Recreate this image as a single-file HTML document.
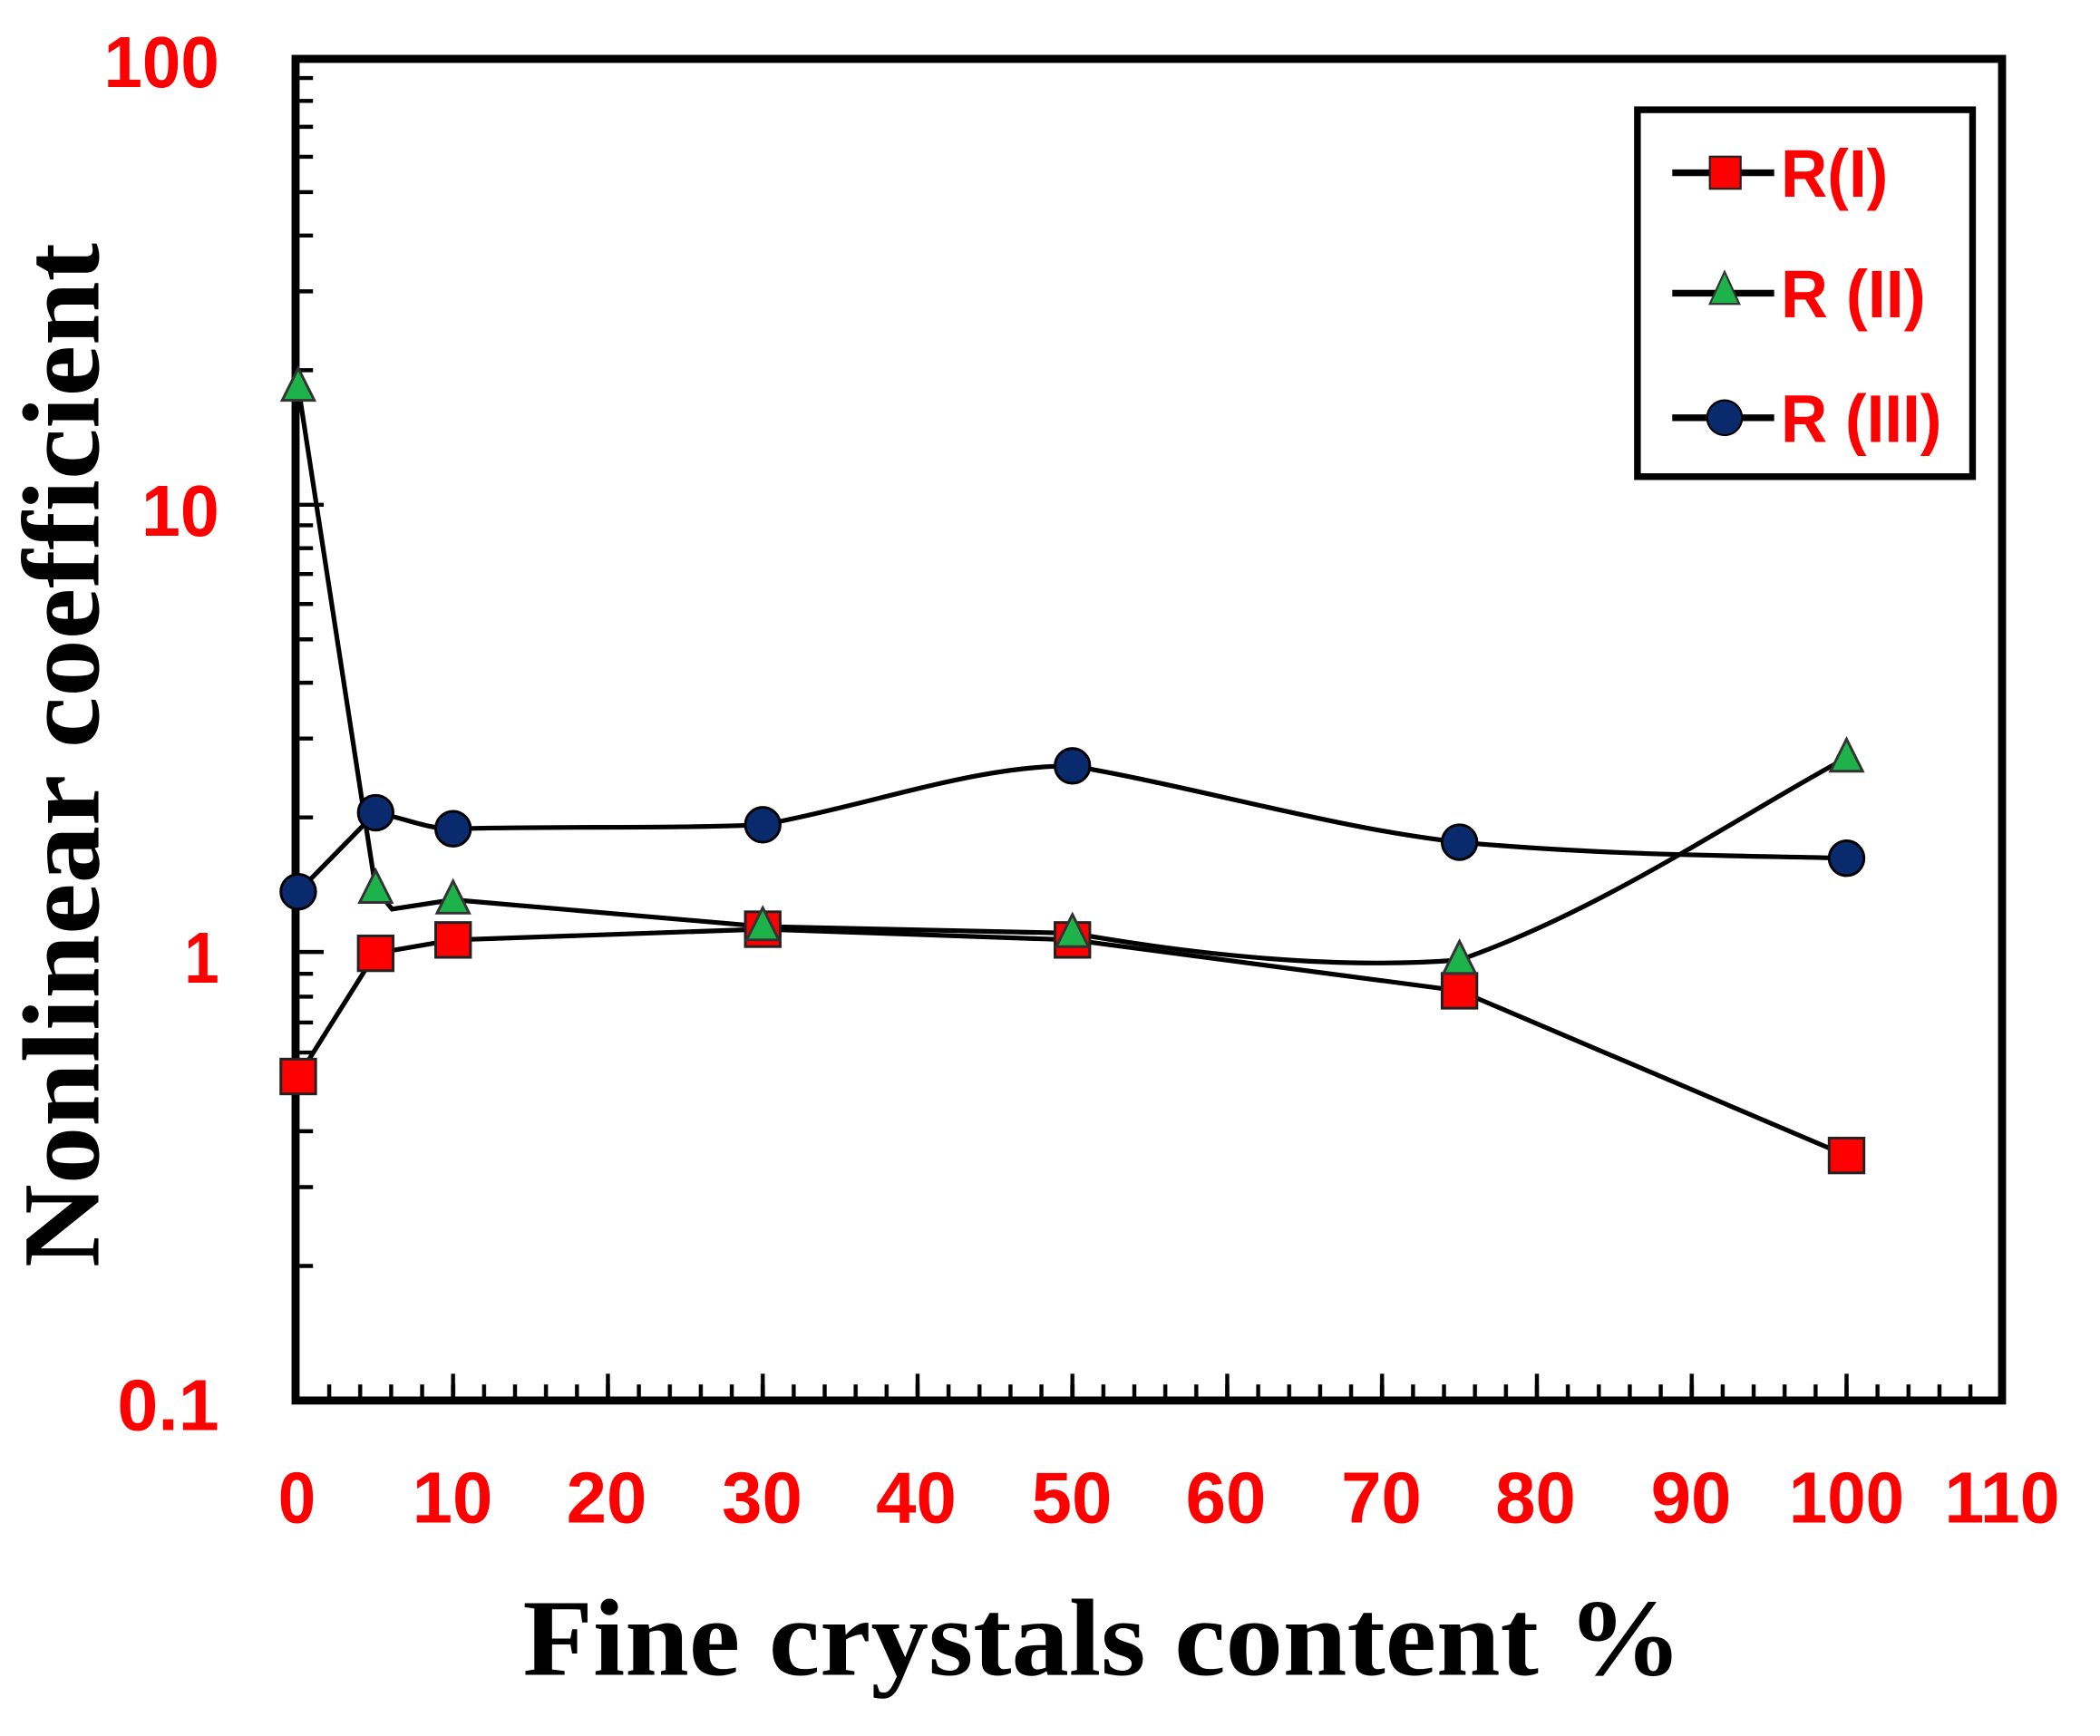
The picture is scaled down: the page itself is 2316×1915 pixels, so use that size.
<!DOCTYPE html>
<html><head><meta charset="utf-8"><style>html,body{margin:0;padding:0;background:#fff}svg{display:block}</style></head>
<body>
<svg width="2316" height="1915" viewBox="0 0 2316 1915" xmlns="http://www.w3.org/2000/svg">
<defs>
<pattern id="minx" x="225" y="0" width="23.1" height="1286" patternUnits="userSpaceOnUse">
<rect x="-1.5" y="1035" width="3" height="12" fill="#000"/>
<rect x="21.6" y="1035" width="3" height="12" fill="#000"/>
</pattern>
<pattern id="majx" x="225" y="0" width="115.5" height="1286" patternUnits="userSpaceOnUse">
<rect x="-1.5" y="1027" width="3" height="20" fill="#000"/>
<rect x="114" y="1027" width="3" height="20" fill="#000"/>
</pattern>
</defs>
<rect width="2316" height="1915" fill="#fff"/>
<g transform="translate(-3.7,-1.5) scale(1.4784,1.477)">
<rect x="228" y="1020" width="1262" height="27" fill="url(#minx)"/>
<rect x="228" y="1020" width="1262" height="27" fill="url(#majx)"/>
<g stroke="#000" stroke-width="3">
<path d="M226 946.5h10M226 887.6h10M226 845.9h10M226 813.5h10M226 787.1h10M226 764.7h10M226 745.4h10M226 728.3h10M226 712h18
M226 611.5h10M226 552.6h10M226 510.9h10M226 478.5h10M226 452.1h10M226 429.7h10M226 410.4h10M226 393.3h10M226 378h18
M226 277.5h10M226 218.6h10M226 176.9h10M226 144.5h10M226 118.1h10M226 95.7h10M226 76.4h10M226 59.3h10"/>
</g>
<rect x="223" y="45" width="1273" height="1002" fill="none" stroke="#000" stroke-width="6"/>

<g fill="none" stroke="#000" stroke-width="3.5">
<path d="M225,667 L282.75,608 C305,612 320,620 340.5,620 C420,618 500,620 571.5,617 C660,600 730,573 802.5,573 C900,590 1000,620 1091.25,630 C1200,640 1300,640 1380,642"/>
<path d="M225,805 L282.75,713 L340.5,703 L571.5,695 L802.5,703 L1091.25,741 L1380,864"/>
<path d="M225,290 L282.75,665 L295,680 L340.5,673 L571.5,693 L802.5,698 C900,715 1000,725 1091.25,718 C1200,680 1300,610 1380,567"/>
</g>
<g fill="#0a2a6e" stroke="#000" stroke-width="2">
<circle cx="225" cy="667" r="13"/><circle cx="282.75" cy="608" r="13"/><circle cx="340.5" cy="620" r="13"/><circle cx="571.5" cy="617" r="13"/><circle cx="802.5" cy="573" r="13"/><circle cx="1091.25" cy="630" r="13"/><circle cx="1380" cy="642" r="13"/>
</g>
<g fill="#f00" stroke="#222" stroke-width="2">
<rect x="212" y="792" width="26" height="26"/><rect x="269.75" y="700" width="26" height="26"/><rect x="327.5" y="690" width="26" height="26"/><rect x="558.5" y="682" width="26" height="26"/><rect x="789.5" y="690" width="26" height="26"/><rect x="1078.25" y="728" width="26" height="26"/><rect x="1367" y="851" width="26" height="26"/>
</g>
<g fill="#1db34a" stroke="#333" stroke-width="2">
<polygon points="225,276 213,300 237,300"/>
<polygon points="282.75,651 270.75,675 294.75,675"/>
<polygon points="340.5,659 328.5,683 352.5,683"/>
<polygon points="571.5,679 559.5,703 583.5,703"/>
<polygon points="802.5,684 790.5,708 814.5,708"/>
<polygon points="1091.25,704 1079.25,728 1103.25,728"/>
<polygon points="1380,553 1368,577 1392,577"/>
</g>

<rect x="1224" y="83" width="250" height="274" fill="#fff" stroke="#000" stroke-width="5"/>
<g stroke="#000" stroke-width="5">
<line x1="1250" y1="130" x2="1326" y2="130"/>
<line x1="1250" y1="220" x2="1326" y2="220"/>
<line x1="1250" y1="313" x2="1326" y2="313"/>
</g>
<rect x="1278" y="118" width="23" height="24" fill="#f00" stroke="#222" stroke-width="1.5"/>
<polygon points="1289,204 1278,228 1300,228" fill="#1db34a" stroke="#333" stroke-width="1.5"/>
<circle cx="1289" cy="313" r="13" fill="#0a2a6e" stroke="#000" stroke-width="1.5"/>
<g font-family="Liberation Sans, sans-serif" font-weight="bold" fill="#f00" font-size="50">
<text x="1331" y="148" textLength="80" lengthAdjust="spacingAndGlyphs">R(I)</text>
<text x="1331" y="238" textLength="108" lengthAdjust="spacingAndGlyphs">R (II)</text>
<text x="1331" y="331" textLength="120" lengthAdjust="spacingAndGlyphs">R (III)</text>
</g>
<g font-family="Liberation Sans, sans-serif" font-weight="bold" fill="#f00" font-size="54" text-anchor="end">
<text x="166" y="66" textLength="86" lengthAdjust="spacingAndGlyphs">100</text>
<text x="166" y="401" textLength="58" lengthAdjust="spacingAndGlyphs">10</text>
<text x="166" y="735" textLength="26" lengthAdjust="spacingAndGlyphs">1</text>
<text x="166" y="1069" textLength="76" lengthAdjust="spacingAndGlyphs">0.1</text>
</g>
<g font-family="Liberation Sans, sans-serif" font-weight="bold" fill="#f00" font-size="54" text-anchor="middle">
<text x="224" y="1138" textLength="28" lengthAdjust="spacingAndGlyphs">0</text>
<text x="340" y="1138" textLength="60" lengthAdjust="spacingAndGlyphs">10</text>
<text x="455" y="1138" textLength="60" lengthAdjust="spacingAndGlyphs">20</text>
<text x="571" y="1138" textLength="60" lengthAdjust="spacingAndGlyphs">30</text>
<text x="686" y="1138" textLength="60" lengthAdjust="spacingAndGlyphs">40</text>
<text x="802" y="1138" textLength="60" lengthAdjust="spacingAndGlyphs">50</text>
<text x="917" y="1138" textLength="60" lengthAdjust="spacingAndGlyphs">60</text>
<text x="1033" y="1138" textLength="60" lengthAdjust="spacingAndGlyphs">70</text>
<text x="1148" y="1138" textLength="60" lengthAdjust="spacingAndGlyphs">80</text>
<text x="1264" y="1138" textLength="60" lengthAdjust="spacingAndGlyphs">90</text>
<text x="1380" y="1138" textLength="86" lengthAdjust="spacingAndGlyphs">100</text>
<text x="1496" y="1138" textLength="86" lengthAdjust="spacingAndGlyphs">110</text>
</g>
<text x="825" y="1252" font-family="Liberation Serif, serif" font-weight="bold" font-size="82" text-anchor="middle" textLength="865" lengthAdjust="spacingAndGlyphs">Fine crystals content %</text>
<text transform="translate(76,565) rotate(-90)" font-family="Liberation Serif, serif" font-weight="bold" font-size="82" text-anchor="middle" textLength="765" lengthAdjust="spacingAndGlyphs">Nonlinear coefficient</text>
</g>
</svg>
</body></html>
